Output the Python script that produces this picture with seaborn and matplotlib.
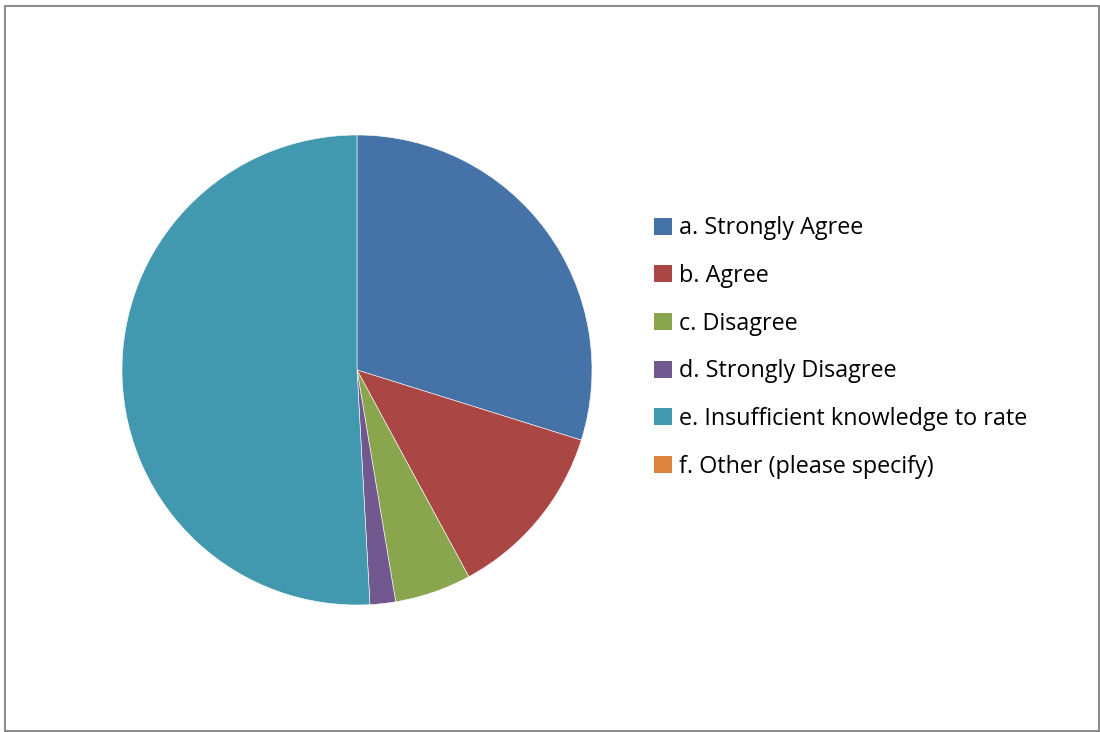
import matplotlib
matplotlib.use("Agg")
import matplotlib.pyplot as plt
from matplotlib.patches import Rectangle, Patch
import seaborn as sns

# Survey responses (counts)
categories = [
    "a. Strongly Agree",
    "b. Agree",
    "c. Disagree",
    "d. Strongly Disagree",
    "e. Insufficient knowledge to rate",
    "f. Other (please specify)",
]
responses = [17, 7, 3, 1, 29, 0]
colors = ["#4572A7", "#AA4643", "#89A54E", "#71588F", "#4198AF", "#DB843D"]

sns.set_theme(style="white")
plt.rcParams["font.family"] = ["Open Sans", "DejaVu Sans"]
plt.rcParams["text.color"] = "black"

W, H = 1100, 732
fig = plt.figure(figsize=(W / 100, H / 100), dpi=100)
fig.patch.set_facecolor("white")

# Outer chart frame
fig.add_artist(Rectangle((5 / W, 1 - 731 / H), 1094 / W, 725 / H,
                         transform=fig.transFigure, fill=False,
                         edgecolor="#8c8c8c", linewidth=1.5))

cx, cy, r = 357, 370, 235
ax = fig.add_axes([(cx - r) / W, 1 - (cy + r) / H, 2 * r / W, 2 * r / H])
nonzero = [(v, c) for v, c in zip(responses, colors) if v > 0]
ax.pie([v for v, _ in nonzero], colors=[c for _, c in nonzero],
       startangle=90, counterclock=False,
       wedgeprops=dict(edgecolor="white", linewidth=0.4))
ax.set_xlim(-1, 1)
ax.set_ylim(-1, 1)
ax.set_aspect("auto")
ax.axis("off")

handles = [Patch(facecolor=c, edgecolor="none") for c in colors]
leg = fig.legend(handles, categories, loc="upper left",
                 bbox_to_anchor=(645 / W, 1 - 207 / H),
                 frameon=False, fontsize=16.8, handlelength=0.75,
                 handleheight=0.75, handletextpad=0.3, labelspacing=1.015,
                 borderaxespad=0)
for t in leg.get_texts():
    t.set_color("black")

fig.savefig("out.png", dpi=100)
